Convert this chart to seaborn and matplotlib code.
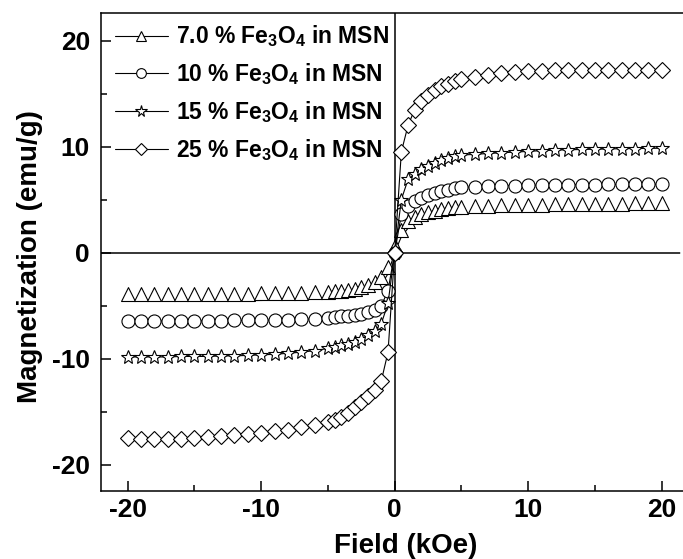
import matplotlib
matplotlib.use("Agg")
import matplotlib.pyplot as plt
from matplotlib.path import Path
from matplotlib.lines import Line2D
import pandas as pd
import seaborn as sns

# Applied field (kOe)
field = [-20, -19, -18, -17, -16, -15, -14, -13, -12, -11, -10, -9, -8, -7, -6, -5,
         -4.5, -4, -3.5, -3, -2.5, -2, -1.5, -1, -0.5, 0, 0.5, 1, 1.5, 2, 2.5, 3, 3.5, 4, 4.5,
         5, 6, 7, 8, 9, 10, 11, 12, 13, 14, 15, 16, 17, 18, 19, 20]

# Magnetization (emu/g) for each Fe3O4 loading
m_7 = [-4.60, -4.60, -4.60, -4.60, -4.58, -4.58, -4.56, -4.55, -4.55, -4.53, -4.52, -4.50, -4.48, -4.45, -4.40, -4.35,
       -4.30, -4.25, -4.15, -4.05, -3.90, -3.70, -3.45, -3.00, -2.00, 0.0,
       1.50, 2.30, 2.70, 2.95, 3.15, 3.30, 3.42, 3.52, 3.60,
       3.65, 3.72, 3.76, 3.80, 3.82, 3.85, 3.87, 3.89, 3.91, 3.93, 3.95, 3.96, 3.97, 3.98, 3.99, 4.00]
m_10 = [-6.45, -6.45, -6.45, -6.45, -6.45, -6.45, -6.43, -6.42, -6.40, -6.40, -6.38, -6.37, -6.35, -6.30, -6.25, -6.15,
        -6.10, -6.00, -5.95, -5.85, -5.75, -5.60, -5.40, -5.00, -3.60, 0.0,
        3.60, 4.40, 4.85, 5.15, 5.40, 5.60, 5.80, 5.95, 6.05,
        6.15, 6.20, 6.25, 6.30, 6.33, 6.35, 6.37, 6.39, 6.40, 6.41, 6.42, 6.43, 6.44, 6.44, 6.45, 6.45]
m_15 = [-9.85, -9.85, -9.85, -9.85, -9.80, -9.80, -9.80, -9.75, -9.75, -9.70, -9.65, -9.60, -9.50, -9.40, -9.25, -9.05,
        -8.90, -8.75, -8.60, -8.40, -8.15, -7.80, -7.40, -6.70, -4.80, 0.0,
        5.00, 6.90, 7.40, 7.85, 8.20, 8.50, 8.75, 8.95, 9.10,
        9.20, 9.27, 9.35, 9.42, 9.48, 9.55, 9.62, 9.67, 9.70, 9.73, 9.75, 9.78, 9.80, 9.82, 9.83, 9.85]
m_25 = [-17.45, -17.55, -17.55, -17.55, -17.55, -17.50, -17.40, -17.35, -17.25, -17.10, -17.00, -16.85, -16.70, -16.50, -16.25, -16.00,
        -15.80, -15.50, -15.10, -14.60, -14.10, -13.50, -13.00, -12.10, -9.40, 0.0,
        9.50, 12.00, 13.50, 14.30, 14.90, 15.30, 15.70, 15.90, 16.15,
        16.40, 16.60, 16.80, 16.95, 17.05, 17.10, 17.15, 17.20, 17.20, 17.22, 17.24, 17.25, 17.25, 17.26, 17.26, 17.27]

labels = ["7.0 % Fe$_3$O$_4$ in MSN", "10 % Fe$_3$O$_4$ in MSN",
          "15 % Fe$_3$O$_4$ in MSN", "25 % Fe$_3$O$_4$ in MSN"]

sns.set_theme(style="ticks")
plt.rcParams.update({
    "font.family": ["Liberation Sans", "DejaVu Sans"],
    "font.weight": "bold",
    "mathtext.default": "regular",
    "axes.unicode_minus": False,
    "text.color": "black",
    "axes.labelcolor": "black",
    "axes.edgecolor": "black",
    "xtick.color": "black",
    "ytick.color": "black",
    "axes.linewidth": 1.1,
    "axes.spines.right": False,
})

# up-triangle whose base sits on the data point
tri = Path([(-0.5, 0.0), (0.5, 0.0), (0.0, 1.0), (-0.5, 0.0)],
           [Path.MOVETO, Path.LINETO, Path.LINETO, Path.CLOSEPOLY])

fig = plt.figure(figsize=(6.83, 5.59), dpi=100)
fig.patch.set_linewidth(0)
# the frame is open on the right, where the canvas ends
ax = fig.add_axes([0.1479, 0.1216, 1.0 - 0.1479, 0.855])

ax.axhline(0, color="black", lw=1.1, zorder=1)
ax.axvline(0, color="black", lw=1.1, zorder=1)

styles = [(tri, 20.0), ("o", 9.4), ("*", 10.5), ("D", 7.9)]
for values, (mk, ms) in zip([m_7, m_10, m_15, m_25], styles):
    df = pd.DataFrame({"Field": field, "M": values})
    sns.lineplot(data=df, x="Field", y="M", ax=ax, color="black", lw=0.8,
                 marker=mk, ms=ms, mfc="white", mec="black", mew=0.8,
                 estimator=None, sort=False, legend=False)

handles = [Line2D([], [], color="black", lw=0.8, marker=m, ms=s, mfc="white",
                  mec="black", mew=0.8)
           for m, s in [("^", 7.5), ("o", 7.0), ("*", 8.5), ("D", 6.0)]]
ax.legend(handles, labels, loc="upper left", bbox_to_anchor=(0.0241, 0.978),
          frameon=False, prop={"size": 16.5, "weight": "bold"},
          handlelength=2.3, handletextpad=0.35, labelspacing=0.52,
          borderpad=0, borderaxespad=0)

ax.set_xlim(-22, 21.6)
ax.set_ylim(-22.5, 22.6)
ax.set_xticks([-20, -10, 0, 10, 20])
ax.set_xticks([-15, -5, 5, 15], minor=True)
ax.set_yticks([-20, -10, 0, 10, 20])
ax.set_yticks([-15, -5, 5, 15], minor=True)
ax.tick_params(which="both", direction="in", width=1.1, top=False, right=False)
ax.tick_params(which="major", length=7, labelsize=19)
ax.tick_params(axis="y", which="major", pad=8)
ax.tick_params(axis="x", which="major", pad=5)
ax.tick_params(which="minor", length=4)
for lab in ax.get_xticklabels() + ax.get_yticklabels():
    lab.set_fontweight("bold")

ax.set_xlabel("Field (kOe)", fontsize=20, fontweight="bold")
ax.set_ylabel("Magnetization (emu/g)", fontsize=20, fontweight="bold")
ax.xaxis.set_label_coords(0.524, -0.088)
ax.yaxis.set_label_coords(-0.1, 0.49)

ax.spines["right"].set_visible(False)
# keep the right-hand edge of the frame open
ax.plot([1.0, 1.0], [0.003, 0.997], transform=ax.transAxes, color="white",
        lw=4, clip_on=False, zorder=10, solid_capstyle="butt")

fig.savefig("out.png", dpi=100)
